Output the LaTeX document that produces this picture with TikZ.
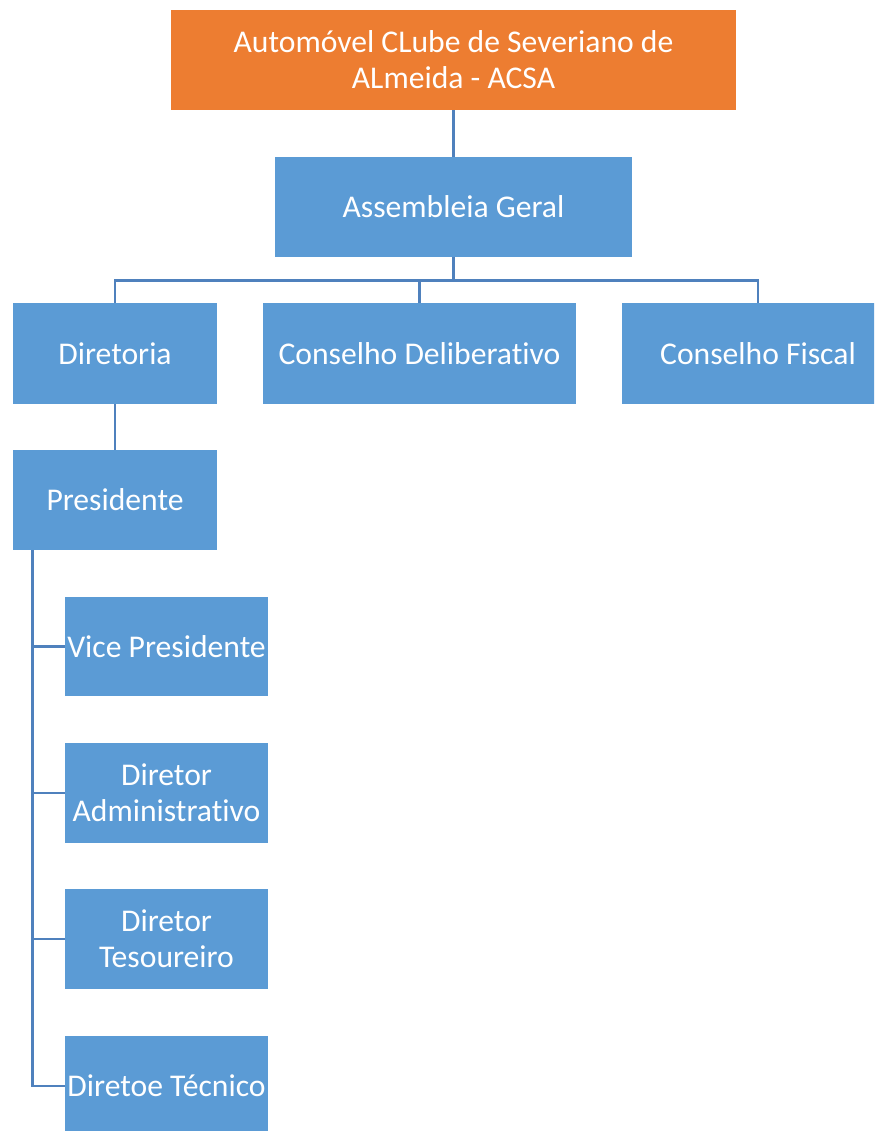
\documentclass[tikz,border=0pt]{standalone}
\usepackage{fontspec}
\setmainfont{Carlito}[Ligatures=NoCommon]
\usepackage{tikz}
\usetikzlibrary{calc}
\definecolor{boxblue}{HTML}{5B9BD5}
\definecolor{boxorange}{HTML}{ED7D31}
\definecolor{lineblue}{HTML}{4F81BD}

\begin{document}
\begin{tikzpicture}[
  unit/.style={fill=boxblue, text=white, inner sep=0pt, align=center,
    font=\fontsize{18}{20.5}\selectfont},
  link/.style={lineblue, line width=1.6pt}
]
\useasboundingbox (0,0) rectangle (17.48,-22.62);
\clip (0,0) rectangle (17.48,-22.62);

\node [unit, fill=boxorange, minimum width=11.3cm, minimum height=2cm] (acsa) at (9.07,-1.2) {Automóvel CLube de Severiano de\\ALmeida - ACSA};
\node [unit, minimum width=7.14cm, minimum height=2cm] (geral) at (9.07,-4.14) {Assembleia Geral};

\node [unit, minimum width=4.08cm, minimum height=2.02cm] (diretoria) at (2.3,-7.07) {Diretoria};
\node [unit, minimum width=6.26cm, minimum height=2.02cm] (delib) at (8.39,-7.07) {Conselho Deliberativo};
\node [unit, minimum width=5.44cm, minimum height=2.02cm] (fiscal) at (15.16,-7.07) {Conselho Fiscal};

\node [unit, minimum width=4.08cm, minimum height=2cm] (pres) at (2.3,-10.0) {Presidente};

\node [unit, minimum width=4.06cm, minimum height=1.98cm] (vice) at (3.33,-12.93) {Vice Presidente};
\node [unit, minimum width=4.06cm, minimum height=2cm] (adm) at (3.33,-15.86) {Diretor\\Administrativo};
\node [unit, minimum width=4.06cm, minimum height=2cm] (tes) at (3.33,-18.78) {Diretor\\Tesoureiro};
\node [unit, minimum width=4.06cm, minimum height=2cm] (tec) at (3.33,-21.72) {Diretoe Técnico};

\draw [link] (acsa.south) -- (geral.north);
\coordinate (bus) at ($(geral.south)+(0,-0.46)$);
\draw [link] (geral.south) -- (bus);
\draw [link] (bus) -| (diretoria.north);
\draw [link] (bus) -| (delib.north);
\draw [link] (bus) -| (fiscal.north);
\draw [link] (diretoria.south) -- (pres.north);

\coordinate (spine) at ($(pres.south west)+(0.4,0)$);
\draw [link] (spine) |- (vice.west);
\draw [link] (spine) |- (adm.west);
\draw [link] (spine) |- (tes.west);
\draw [link] (spine) |- (tec.west);
\end{tikzpicture}
\end{document}
